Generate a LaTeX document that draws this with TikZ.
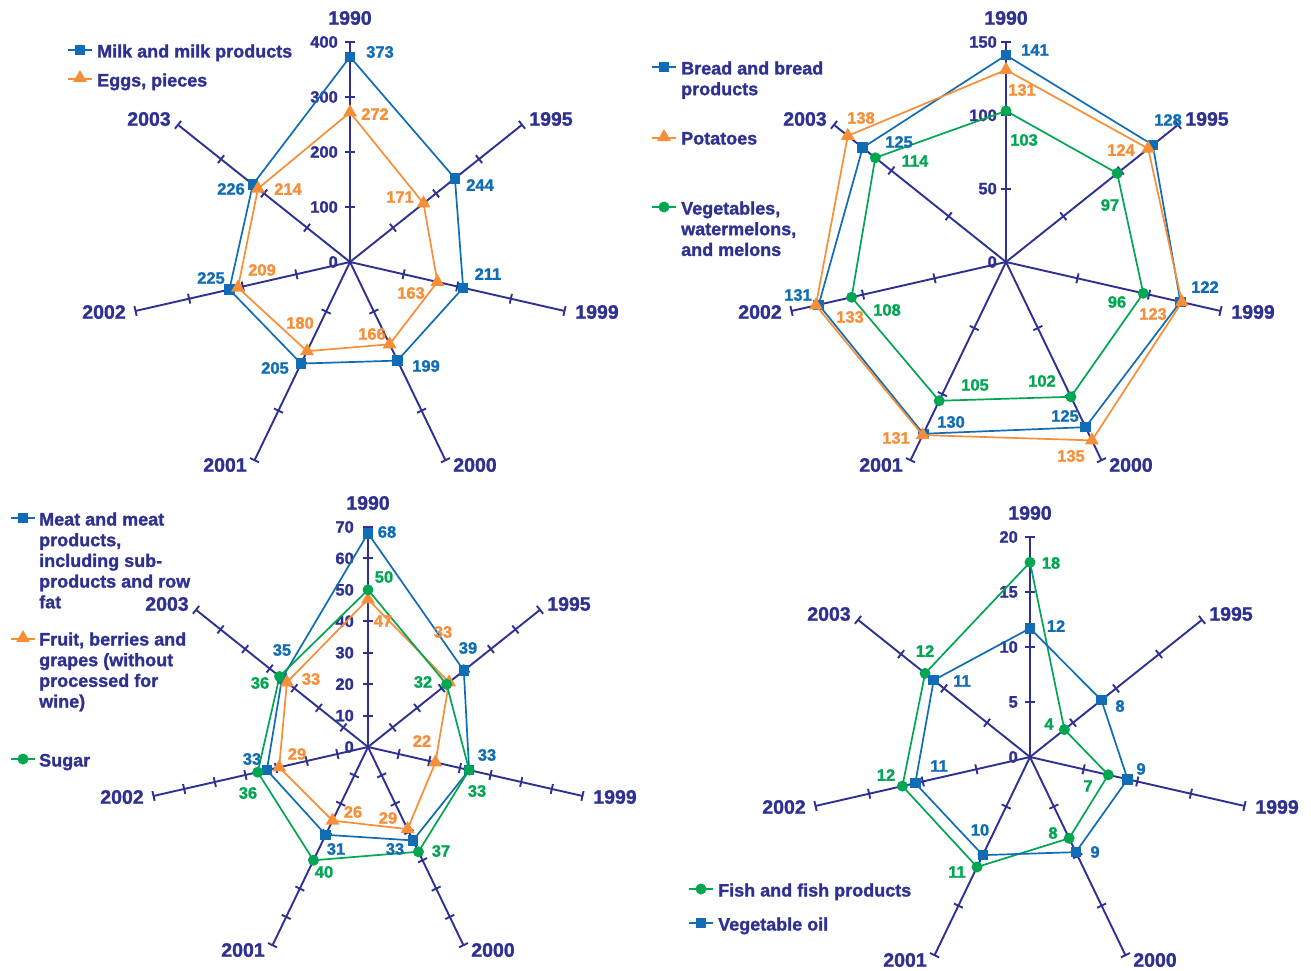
\documentclass[tikz,border=0pt]{standalone}
\usepackage{fontspec}
\setmainfont{Liberation Sans}[BoldFeatures={FakeBold=1.3}]
\usetikzlibrary{shapes.geometric}
\definecolor{navy}{RGB}{46,49,146}
\definecolor{sblue}{RGB}{16,108,180}
\definecolor{sorange}{RGB}{247,142,56}
\definecolor{sgreen}{RGB}{0,166,81}
\tikzset{
  axisln/.style={draw=navy, line width=1.9},
  yearlbl/.style={font=\fontsize{19.5}{22}\selectfont\bfseries, text=navy, inner sep=0},
  scalelbl/.style={font=\fontsize{16.5}{19}\selectfont\bfseries, text=navy, inner sep=0, anchor=east},
  vallbl/.style={font=\fontsize{16.5}{19}\selectfont\bfseries, inner sep=0},
  leglbl/.style={font=\fontsize{18}{20.7}\selectfont\bfseries, text=navy, inner sep=0, anchor=base west},
  lnblue/.style={draw=sblue, line width=1.7, line join=round},
  lnorange/.style={draw=sorange, line width=1.7, line join=round},
  lngreen/.style={draw=sgreen, line width=1.7, line join=round},
  mksq/.style={rectangle, fill=sblue, minimum size=10.5, inner sep=0},
  mktri/.style={regular polygon, regular polygon sides=3, fill=sorange, minimum size=16, inner sep=0},
  mkcirc/.style={circle, fill=sgreen, minimum size=11, inner sep=0},
}
% #1 cx, #2 cy, #3 number of ticks
\newcommand\radaraxes[3]{%
  \foreach \k in {0,...,6}{%
    \begin{scope}[shift={(#1,#2)}, rotate={90-\k*360/7}]
      \draw[axisln] (0,0) -- (220,0);
      \foreach \t in {1,...,#3} \draw[axisln] ({\t*220/#3},-5) -- ({\t*220/#3},5);
    \end{scope}
  }%
}
% #1 cx, #2 cy, #3 max, #4 line style, #5 marker style, #6 values
\newcommand\radarseries[6]{%
  \foreach \v [count=\i from 0] in {#6}{%
    \pgfmathsetmacro\rr{\v/#3*220}%
    \coordinate (q\i) at ({#1+\rr*cos(90-\i*360/7)}, {#2-\rr*sin(90-\i*360/7)});
  }%
  \draw[#4] (q0) -- (q1) -- (q2) -- (q3) -- (q4) -- (q5) -- (q6) -- cycle;
  \foreach \i in {0,...,6} \node[#5] (m\i) at (q\i) {};
}
% #1 cx, #2 cy
\newcommand\yearlabels[2]{%
  \node[yearlbl] (y0) at (#1,#2-244) {1990};
  \node[yearlbl] (y1) at (#1+201,#2-143) {1995};
  \node[yearlbl] (y2) at (#1+247,#2+50) {1999};
  \node[yearlbl] (y3) at (#1+125,#2+203) {2000};
  \node[yearlbl] (y4) at (#1-125,#2+203) {2001};
  \node[yearlbl] (y5) at (#1-246,#2+50) {2002};
  \node[yearlbl] (y6) at (#1-201,#2-143) {2003};
}
\begin{document}
\begin{tikzpicture}[x=1pt,y=-1pt]
\useasboundingbox[fill=white] (0,0) rectangle (1311,971);

% ---------------- Chart 1 ----------------
\radaraxes{350}{262}{4}
\foreach \t/\l in {0/0,1/100,2/200,3/300,4/400} \node[scalelbl] at (338,{262-\t*55}) {\l};
\yearlabels{350}{262}
\radarseries{350}{262}{400}{lnblue}{mksq}{373,244,211,199,205,225,226}
\radarseries{350}{262}{400}{lnorange}{mktri}{272,171,163,166,180,209,214}
\foreach \x/\y/\l in {380/52/373,480/185/244,488/274/211,426/366/199,275/368/205,211/278/225,231/189/226}
  \node[vallbl,text=sblue] at (\x,\y) {\l};
\foreach \x/\y/\l in {375/114/272,400/197/171,411/293/163,372/334/166,300/323/180,262/270/209,288/189/214}
  \node[vallbl,text=sorange] at (\x,\y) {\l};
\draw[lnblue] (68,50) -- (92,50); \node[mksq] (l1a) at (80,50) {};
\node[leglbl] (t1a) at (97,57.5) {Milk and milk products};
\draw[lnorange] (68,79) -- (92,79); \node[mktri] (l1b) at (80,78) {};
\node[leglbl] (t1b) at (97,86.5) {Eggs, pieces};

% ---------------- Chart 2 ----------------
\radaraxes{1006}{262}{3}
\foreach \t/\l in {0/0,1/50,2/100,3/150} \node[scalelbl] at (997,{262-\t*220/3}) {\l};
\yearlabels{1006}{262}
\radarseries{1006}{262}{150}{lnblue}{mksq}{141,128,122,125,130,131,125}
\radarseries{1006}{262}{150}{lnorange}{mktri}{131,124,123,135,131,133,138}
\radarseries{1006}{262}{150}{lngreen}{mkcirc}{103,97,96,102,105,108,114}
\foreach \x/\y/\l in {1035/50/141,1168/120/128,1205/287/122,1065/416/125,951/422/130,798/295/131,899/142/125}
  \node[vallbl,text=sblue] at (\x,\y) {\l};
\foreach \x/\y/\l in {1022/90/131,1121/150/124,1153/314/123,1071/456/135,896/438/131,850/317/133,861/118/138}
  \node[vallbl,text=sorange] at (\x,\y) {\l};
\foreach \x/\y/\l in {1024/140/103,1110/205/97,1117/302/96,1042/381/102,975/385/105,887/310/108,915/161/114}
  \node[vallbl,text=sgreen] at (\x,\y) {\l};
\draw[lnblue] (652,67) -- (676,67); \node[mksq] (l2a) at (664,67) {};
\node[leglbl] (t2a) at (681,74.5) {Bread and bread};
\node[leglbl] (t2b) at (681,95.2) {products};
\draw[lnorange] (652,138) -- (676,138); \node[mktri] (l2b) at (664,137) {};
\node[leglbl] (t2c) at (681,144.5) {Potatoes};
\draw[lngreen] (652,207) -- (676,207); \node[mkcirc] (l2c) at (664,207) {};
\node[leglbl] (t2d) at (681,214.5) {Vegetables,};
\node[leglbl] (t2e) at (681,235.2) {watermelons,};
\node[leglbl] (t2f) at (681,255.9) {and melons};

% ---------------- Chart 3 ----------------
\radaraxes{368}{747}{7}
\foreach \t/\l in {0/0,1/10,2/20,3/30,4/40,5/50,6/60,7/70} \node[scalelbl] at (354,{747-\t*220/7}) {\l};
\yearlabels{368}{747}
\radarseries{368}{747}{70}{lnblue}{mksq}{68,39,33,33,31,33,35}
\radarseries{368}{747}{70}{lnorange}{mktri}{47,33,22,29,26,29,33}
\radarseries{368}{747}{70}{lngreen}{mkcirc}{50,32,33,37,40,36,36}
\foreach \x/\y/\l in {387/532/68,468/648/39,487/755/33,395/849/33,336/849/31,252/759/33,282/650/35}
  \node[vallbl,text=sblue] at (\x,\y) {\l};
\foreach \x/\y/\l in {383/621/47,443/632/33,422/741/22,388/818/29,353/812/26,297/754/29,311/679/33}
  \node[vallbl,text=sorange] at (\x,\y) {\l};
\foreach \x/\y/\l in {384/577/50,423/682/32,477/791/33,441/851/37,324/872/40,248/793/36,260/683/36}
  \node[vallbl,text=sgreen] at (\x,\y) {\l};
\draw[lnblue] (11,518) -- (35,518); \node[mksq] (l3a) at (23,518) {};
\node[leglbl] (t3a) at (39,525.5) {Meat and meat};
\node[leglbl] (t3b) at (39,546.2) {products,};
\node[leglbl] (t3c) at (39,566.9) {including sub-};
\node[leglbl] (t3d) at (39,587.6) {products and row};
\node[leglbl] (t3e) at (39,608.3) {fat};
\draw[lnorange] (11,639) -- (35,639); \node[mktri] (l3b) at (23,638) {};
\node[leglbl] (t3f) at (39,645.5) {Fruit, berries and};
\node[leglbl] (t3g) at (39,666.2) {grapes (without};
\node[leglbl] (t3h) at (39,686.9) {processed for};
\node[leglbl] (t3i) at (39,707.6) {wine)};
\draw[lngreen] (11,759) -- (35,759); \node[mkcirc] (l3c) at (23,759) {};
\node[leglbl] (t3j) at (39,766.5) {Sugar};

% ---------------- Chart 4 ----------------
\radaraxes{1030}{757}{4}
\foreach \t/\l in {0/0,1/5,2/10,3/15,4/20} \node[scalelbl] at (1018,{757-\t*55}) {\l};
\yearlabels{1030}{757}
\radarseries{1030}{757}{20}{lngreen}{mkcirc}{17.7,4,7.3,8.2,11.1,11.9,12.2}
\radarseries{1030}{757}{20}{lnblue}{mksq}{11.7,8.3,9.1,9.6,9.9,10.7,11.2}
\foreach \x/\y/\l in {1051/563/18,1049/724/4,1088/786/7,1053/833/8,957/872/11,886/775/12,925/651/12}
  \node[vallbl,text=sgreen] at (\x,\y) {\l};
\foreach \x/\y/\l in {1056/626/12,1120/706/8,1141/769/9,1095/852/9,980/830/10,939/766/11,962/681/11}
  \node[vallbl,text=sblue] at (\x,\y) {\l};
\draw[lngreen] (689,889) -- (713,889); \node[mkcirc] (l4a) at (701,889) {};
\node[leglbl] (t4a) at (718,896.5) {Fish and fish products};
\draw[lnblue] (689,923) -- (713,923); \node[mksq] (l4b) at (701,923) {};
\node[leglbl] (t4b) at (718,930.5) {Vegetable oil};
\end{tikzpicture}
\end{document}
